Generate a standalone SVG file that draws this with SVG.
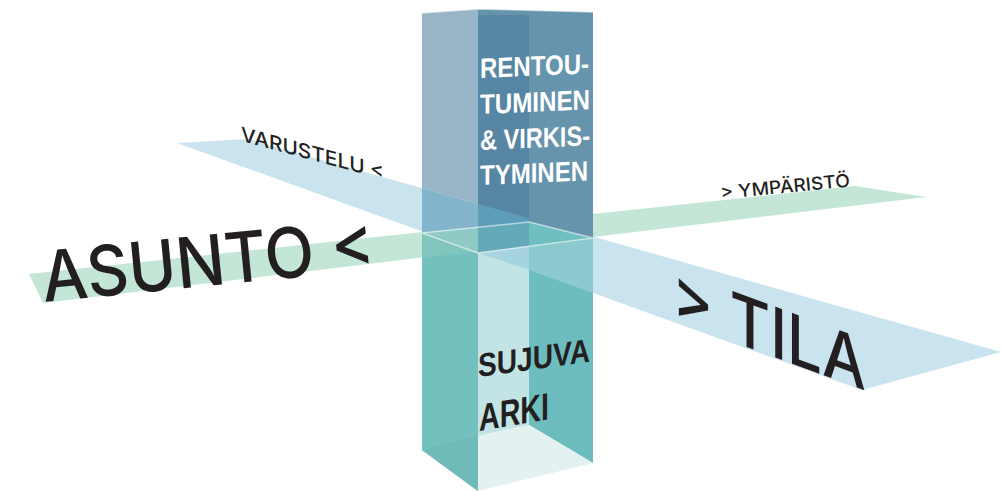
<svg xmlns="http://www.w3.org/2000/svg" width="1001" height="492" viewBox="0 0 1001 492">
  <style>
    .big { font-family: Inter, "Liberation Sans", sans-serif; font-weight: 500; fill: #231f20; }
    .small { font-family: Inter, "Liberation Sans", sans-serif; font-weight: 500; fill: #231f20; }
    .boxw { font-family: "Liberation Sans", Arial, sans-serif; font-weight: 700; fill: #ffffff; font-size: 28px; }
    .boxd { font-family: "Liberation Sans", Arial, sans-serif; font-weight: 700; fill: #231f20; }
    .edge { fill: none; stroke: #ffffff; stroke-opacity: 0.55; stroke-width: 1.5; stroke-linejoin: round; }
  </style>
  <rect width="1001" height="492" fill="#ffffff"/>

  <!-- the two crossing planes -->
  <g id="planes">
    <polygon id="plane-tila" points="177,143 248,139 1001,352 862,390" fill="#c9e3ef"/>
    <polygon id="plane-asunto" points="29,274 855,186 926,197 43,303" fill="#c3e6d7"/>
  </g>

  <!-- translucent column cut by the planes -->
  <g id="column">
    <!-- upper part -->
    <polygon points="478,9 593,12 593,238 478,253" fill="#6694ad"/>
    <polygon points="422,13 478,9 478,203.9 422,188.1" fill="#98b5c7"/>
    <polygon points="422,188.1 478,203.9 478,227.2 422,233" fill="#84b4cb"/>
    <polygon points="478,15 529,15 529,218.3 478,203.9" fill="#5686a3"/>
    <polygon points="478,203.9 529,218.3 529,222 478,227.2" fill="#5e9dba"/>
    <!-- section at the plane level -->
    <polygon points="422,233 478,227.2 478,253" fill="#8fcac4"/>
    <polygon points="478,227.2 529,222 529,246.3 478,253" fill="#63a9b9"/>
    <polygon points="529,222 593,238 529,246.3" fill="#6fbfc1"/>
    <!-- lower part -->
    <polygon points="422,233 478,253 478,491 422,450" fill="#74c0bf"/>
    <polygon points="422,233 476,252.3 422,257.5" fill="#80c6bc"/>
    <polygon points="422,450 478,436 478,491" fill="#6fbbba"/>
    <polygon points="478,253 529,246.3 529,425 478,436" fill="#c3e4e5"/>
    <polygon points="478,253 529,246.3 529,269.9" fill="#a6d4de"/>
    <polygon points="529,246.3 593,238 593,463 529,425" fill="#6dbdbe"/>
    <polygon points="529,246.3 593,238 593,293 529,269.9" fill="#8dcad0"/>
    <polygon points="478,436 529,425 593,463 478,491" fill="#e3f1f1"/>
    <!-- light edges -->
    <polyline class="edge" points="422,13 478,9 593,12"/>
    <polygon class="edge" points="422,233 478,253 593,238 529,222"/>
  </g>

  <!-- labels on the planes -->
  <g id="labels">
    <text class="big" font-size="70" transform="translate(44,302) rotate(-5.6)" textLength="334" lengthAdjust="spacingAndGlyphs">ASUNTO &lt;</text>
    <text class="big" font-size="70" transform="translate(672,320) skewY(20)" textLength="194" lengthAdjust="spacingAndGlyphs">&gt; TILA</text>
    <text class="small" font-size="20" transform="translate(241,141) skewY(15)" textLength="143" lengthAdjust="spacingAndGlyphs">VARUSTELU &lt;</text>
    <text class="small" font-size="18" transform="translate(721,199) rotate(-5.5)" textLength="130" lengthAdjust="spacingAndGlyphs">&gt; YMPÄRISTÖ</text>
  </g>

  <!-- texts inside the column -->
  <g id="column-upper-text" transform="translate(480,0) skewY(-2.4)">
    <text class="boxw" x="0" y="78" textLength="109" lengthAdjust="spacingAndGlyphs">RENTOU-</text>
    <text class="boxw" x="0" y="114" textLength="110" lengthAdjust="spacingAndGlyphs">TUMINEN</text>
    <text class="boxw" x="0" y="150" textLength="110" lengthAdjust="spacingAndGlyphs">&amp; VIRKIS-</text>
    <text class="boxw" x="0" y="185" textLength="108" lengthAdjust="spacingAndGlyphs">TYMINEN</text>
  </g>
  <g id="column-lower-text">
    <text class="boxd" font-size="33" transform="translate(478,377) skewY(-7.8)" textLength="112" lengthAdjust="spacingAndGlyphs">SUJUVA</text>
    <text class="boxd" font-size="38" transform="translate(479,431) skewY(-9.5)" textLength="70" lengthAdjust="spacingAndGlyphs">ARKI</text>
  </g>
</svg>
